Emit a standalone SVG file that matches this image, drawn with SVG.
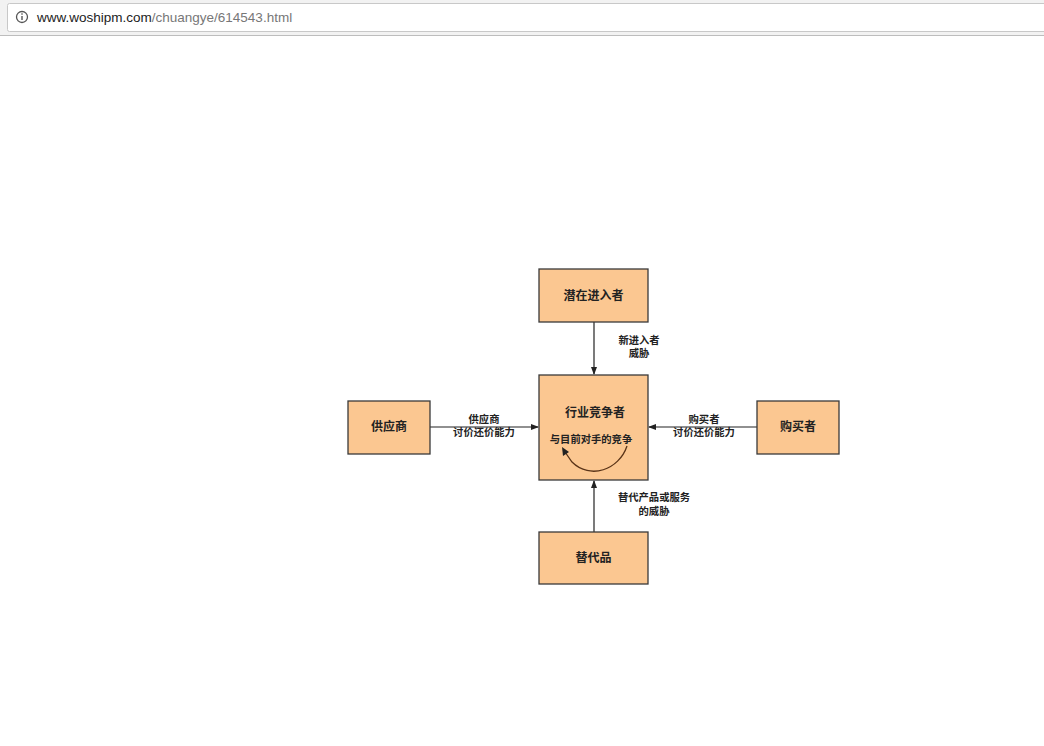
<svg xmlns="http://www.w3.org/2000/svg" width="1044" height="746" viewBox="0 0 1044 746">
<style>
.box{fill:#fbc791;stroke:#3a3a3a;stroke-width:1.3}
.t{font-family:"Noto Sans CJK SC","Liberation Sans",sans-serif;font-size:12px;font-weight:bold;fill:#222;text-anchor:middle}
.l{font-family:"Noto Sans CJK SC","Liberation Sans",sans-serif;font-size:10.3px;font-weight:bold;fill:#222;text-anchor:middle}
.c{stroke:#222;stroke-width:1.2;fill:none}
</style>
<defs>
<marker id="ah" markerWidth="8" markerHeight="8" refX="7" refY="4" orient="auto" markerUnits="userSpaceOnUse">
<path d="M0,1 L8,4 L0,7 Z" fill="#222"/>
</marker>
</defs>
<rect width="1044" height="746" fill="#fff"/>
<g id="browserbar">
<rect x="0" y="0" width="1044" height="36" fill="#f2f2f2"/>
<rect x="7.5" y="3.5" width="1040" height="28" rx="2" fill="#fff" stroke="#c8c8c8"/>
<line x1="0" y1="35.5" x2="1044" y2="35.5" stroke="#bdbdbd"/>
<circle cx="22" cy="17" r="5.5" fill="none" stroke="#555" stroke-width="1.3"/>
<rect x="21.3" y="16" width="1.4" height="4" fill="#555"/>
<rect x="21.3" y="13.3" width="1.4" height="1.4" fill="#555"/>
<text x="37" y="22" font-family="'Liberation Sans',sans-serif" font-size="13.5px" fill="#222">www.woshipm.com<tspan fill="#777">/chuangye/614543.html</tspan></text>
</g>
<g id="connectors">
<line class="c" x1="594" y1="322" x2="594" y2="374" marker-end="url(#ah)"/>
<line class="c" x1="430" y1="427" x2="538" y2="427" marker-end="url(#ah)"/>
<line class="c" x1="757" y1="427" x2="649" y2="427" marker-end="url(#ah)"/>
<line class="c" x1="594" y1="532" x2="594" y2="481" marker-end="url(#ah)"/>
<text class="l" x="639" y="344">新进入者</text>
<text class="l" x="639" y="357">威胁</text>
<text class="l" x="484" y="423">供应商</text>
<text class="l" x="484" y="436">讨价还价能力</text>
<text class="l" x="704" y="423">购买者</text>
<text class="l" x="704" y="436">讨价还价能力</text>
<text class="l" x="654" y="501">替代产品或服务</text>
<text class="l" x="654" y="515">的威胁</text>
</g>
<g id="n-top"><rect class="box" x="539" y="269" width="109" height="53"/><text class="t" x="593.5" y="300">潜在进入者</text></g>
<g id="n-left"><rect class="box" x="348" y="401" width="82" height="53"/><text class="t" x="389" y="431">供应商</text></g>
<g id="n-right"><rect class="box" x="757" y="401" width="82" height="53"/><text class="t" x="798" y="431">购买者</text></g>
<g id="n-bottom"><rect class="box" x="539" y="532" width="109" height="52"/><text class="t" x="593.5" y="562">替代品</text></g>
<g id="n-center">
<rect class="box" x="539" y="375" width="109" height="105"/>
<text class="t" x="595" y="417">行业竞争者</text>
<text class="l" x="591" y="443">与目前对手的竞争</text>
<path d="M627,446 C619,470 590,480 572,462 L565,452" fill="none" stroke="#5a3418" stroke-width="1.3"/>
<path d="M562,447 L569,452 L563,456 Z" fill="#222"/>
</g>
</svg>
